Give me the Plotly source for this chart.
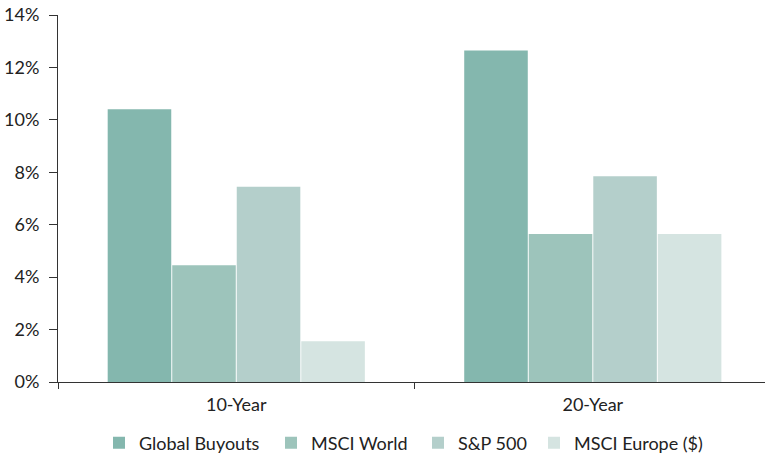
import plotly.graph_objects as go

categories = ["10-Year", "20-Year"]
series_names = ["Global Buyouts", "MSCI World", "S&P 500", "MSCI Europe ($)"]
global_buyouts = [10.4, 12.65]
msci_world = [4.45, 5.65]
sp500 = [7.45, 7.85]
msci_europe = [1.55, 5.65]
tick_vals = [0, 2, 4, 6, 8, 10, 12, 14]
tick_text = ["0%", "2%", "4%", "6%", "8%", "10%", "12%", "14%"]

colors = ["#84b7ae", "#9dc4bb", "#b4cfcb", "#d5e4e1"]
values = [global_buyouts, msci_world, sp500, msci_europe]

font = "Lato, 'Open Sans', sans-serif"
W, H = 765, 453

# one legend per series so each entry sits at its own horizontal spot
legend_ids = ["legend", "legend2", "legend3", "legend4"]
legend_x_px = [99, 271, 418, 534]

fig = go.Figure()
for name, vals, col, lid in zip(series_names, values, colors, legend_ids):
    fig.add_trace(go.Bar(x=categories, y=vals, name=name, legend=lid,
                         marker=dict(color=col, line=dict(width=0))))

legend_layout = {}
for lid, xp in zip(legend_ids, legend_x_px):
    legend_layout[lid] = dict(
        orientation="h", xref="container", yref="container",
        x=xp / W, xanchor="left", y=1 - 443 / H, yanchor="middle",
        font=dict(size=18, color="#222"), bgcolor="rgba(0,0,0,0)",
    )

fig.update_layout(
    width=W, height=H,
    margin=dict(l=58, r=0, t=15, b=71),
    paper_bgcolor="white", plot_bgcolor="white",
    barmode="group", bargap=0.276, bargroupgap=0.015,
    font=dict(family=font, size=18, color="#222"),
    showlegend=True,
    xaxis=dict(range=[-0.5, 1.483], showline=True, linecolor="#333", linewidth=1,
               ticks="outside", tickson="boundaries", ticklen=6, tickcolor="#333",
               showgrid=False, tickfont=dict(size=18), ticklabelstandoff=6,
               automargin=False),
    yaxis=dict(range=[0, 14], tickvals=tick_vals, ticktext=tick_text,
               showline=True, linecolor="#333", linewidth=1, ticks="outside",
               ticklen=8, tickcolor="#333", showgrid=False, zeroline=False,
               tickfont=dict(size=18), ticklabelstandoff=6, automargin=False),
    **legend_layout,
)

fig.write_html("out.html")
